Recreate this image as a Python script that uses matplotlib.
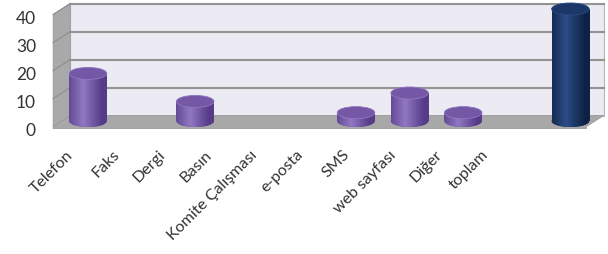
import matplotlib
matplotlib.use("Agg")
import matplotlib.pyplot as plt
import numpy as np
from matplotlib.patches import Ellipse, Polygon

# data
categories = ["Telefon", "Faks", "Dergi", "Basın", "Komite Çalışması",
              "e-posta", "SMS", "web sayfası", "Diğer", "toplam"]
values = [17, 0, 7, 0, 0, 3, 10, 3, 0, 40]
y_ticks = [0, 10, 20, 30, 40]

purple = ["#563c88", "#9077c2", "#7458a6"]   # edge, highlight, top
navy = ["#0e2144", "#2b4c84", "#1b3768"]

plt.rcParams['font.family'] = ['Lato', 'DejaVu Sans']

fig = plt.figure(figsize=(6.08, 2.55), dpi=100)
ax = fig.add_axes([0, 0, 1, 1])
# 1 category = 53.6 px, 1 unit = 2.8 px
ax.axis('off')

dx, dy = 0.16, 1.96          # half depth of the 3d box
L, R = -0.49, 9.46
ytop = 40

# back wall
ax.add_patch(Polygon([(L + dx, dy), (R + dx, dy), (R + dx, ytop + dy), (L + dx, ytop + dy)],
                     closed=True, fc="#eceaf2", ec="#b5b5b5", lw=0.8, zorder=1))
# side wall
ax.add_patch(Polygon([(L - dx, -dy), (L + dx, dy), (L + dx, ytop + dy), (L - dx, ytop - dy)],
                     closed=True, fc="#a9a9ab", ec="#9a9a9a", lw=0.6, zorder=1))
# floor
ax.add_patch(Polygon([(L - dx, -dy - 0.7), (L - dx, -dy), (L + dx, dy), (R + dx, dy),
                      (R - dx, -dy), (R - dx, -dy - 0.7)],
                     closed=True, fc="#a8a8a8", ec="#999999", lw=0.6, zorder=2))

# gridlines
for t in y_ticks[1:]:
    ax.plot([L + dx, R + dx], [t + dy, t + dy], color="#939393", lw=1.5, zorder=1.5)
    ax.plot([L - dx, L + dx], [t - dy, t + dy], color="#8c8c8c", lw=0.8, zorder=1.5)

# y tick labels on the front plane
for t in y_ticks:
    ax.text((36 - 88) / 53.6, t - dy - 1.2, str(t), ha='right', va='center',
            fontsize=12.5, color="#333333")

# cylinders
x = np.arange(len(categories))
w = 0.70
eh = 4.3
grad = np.abs(np.linspace(-1, 1, 64) + 0.25)
grad = np.clip(1 - grad, 0, 1)[None, :]
for xi, v in zip(x, values):
    if v <= 0:
        continue
    c = navy if categories[xi] == "toplam" else purple
    cmap = matplotlib.colors.LinearSegmentedColormap.from_list("c", [c[0], c[1]])
    bot = Ellipse((xi, 0), w, eh, fc=c[0], ec="none", zorder=3)
    ax.add_patch(bot)
    bar = ax.bar(xi, v, width=w, bottom=0, color=c[0], zorder=3)[0]
    for clip in (bar, bot):
        im = ax.imshow(grad, cmap=cmap, aspect='auto', zorder=3.5,
                       extent=(xi - w / 2, xi + w / 2, -eh / 2, v), interpolation='bilinear')
        im.set_clip_path(clip)
    ax.add_patch(Ellipse((xi, v), w, eh, fc=c[2], ec=c[1], lw=0.6, zorder=4))

# category labels
for i, lab in enumerate(categories):
    ax.text((66 + 46.1 * i - 88) / 53.6, (122 - 148) / 2.8, lab, rotation=45,
            ha='right', va='top', rotation_mode='anchor', fontsize=11.5, color="#333333")

ax.set_xlim(-88 / 53.6, (608 - 88) / 53.6)
ax.set_ylim((122 - 255) / 2.8, 122 / 2.8)
fig.savefig("out.png", dpi=100, facecolor="white")
